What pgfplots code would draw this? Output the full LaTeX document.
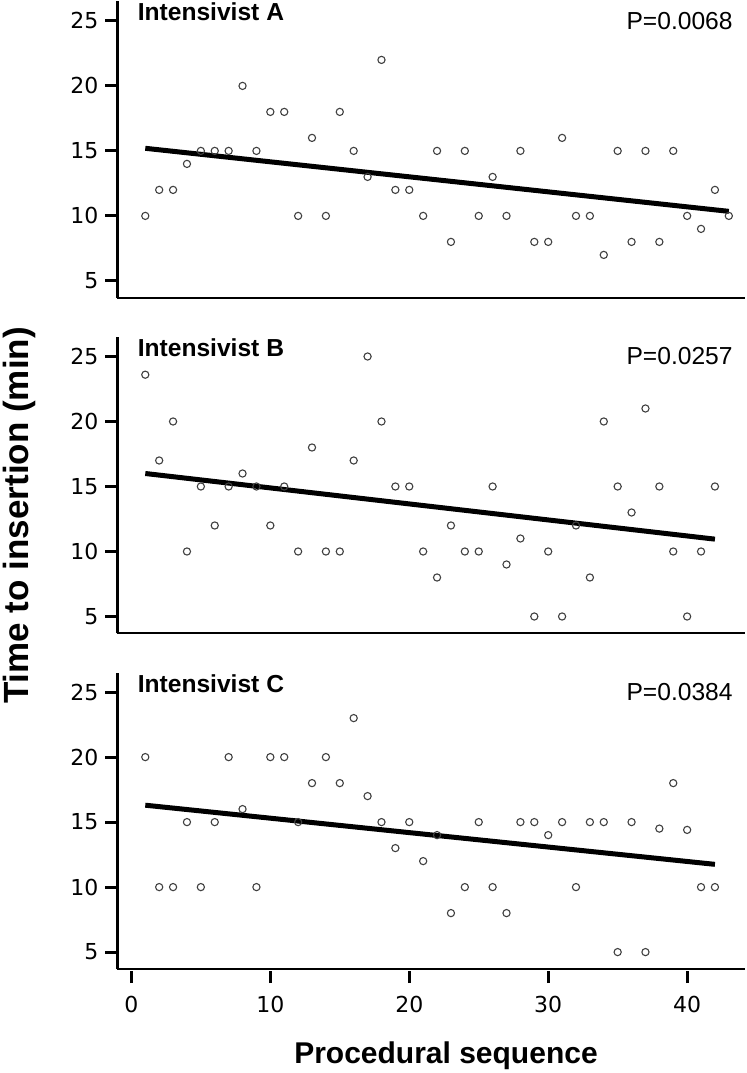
\documentclass[border=0pt]{standalone}
\usepackage{fontspec}
\setmainfont{Liberation Sans}
\newfontfamily\dejavu{DejaVu Sans}
\usepackage{pgfplots}
\pgfplotsset{compat=1.18}

\pgfplotstableread{
x y
1 10
2 12
3 12
4 14
5 15
6 15
7 15
8 20
9 15
10 18
11 18
12 10
13 16
14 10
15 18
16 15
17 13
18 22
19 12
20 12
21 10
22 15
23 8
24 15
25 10
26 13
27 10
28 15
29 8
30 8
31 16
32 10
33 10
34 7
35 15
36 8
37 15
38 8
39 15
40 10
41 9
42 12
43 10
}\dataA

\pgfplotstableread{
x y
1 23.6
2 17
3 20
4 10
5 15
6 12
7 15
8 16
9 15
10 12
11 15
12 10
13 18
14 10
15 10
16 17
17 25
18 20
19 15
20 15
21 10
22 8
23 12
24 10
25 10
26 15
27 9
28 11
29 5
30 10
31 5
32 12
33 8
34 20
35 15
36 13
37 21
38 15
39 10
40 5
41 10
42 15
}\dataB

\pgfplotstableread{
x y
1 20
2 10
3 10
4 15
5 10
6 15
7 20
8 16
9 10
10 20
11 20
12 15
13 18
14 20
15 18
16 23
17 17
18 15
19 13
20 15
21 12
22 14
23 8
24 10
25 15
26 10
27 8
28 15
29 15
30 14
31 15
32 10
33 15
34 15
35 5
36 15
37 5
38 14.5
39 18
40 14.4
41 10
42 10
}\dataC

\pgfplotsset{
  panel/.style={
    scale only axis, width=314pt, height=148.2pt,
    xmin=-1, xmax=44.2, ymin=3.7, ymax=26.5,
    axis x line*=bottom, axis y line*=left,
    axis line style={-},
    x axis line style={line width=0.9pt},
    y axis line style={line width=1.3pt},
    ytick={5,10,15,20,25},
    xtick={0,10,20,30,40},
    tick align=outside,
    major tick length=6pt,
    ytick style={line width=1.5pt, black},
    xtick style={line width=1.5pt, black, yshift=-1pt},
    tick label style={font=\dejavu\fontsize{11}{13}\selectfont},
    xticklabel style={yshift=-4pt},
    /pgf/number format/assume math mode=true,
    clip=false,
  },
  pts/.style={only marks, mark=o, mark size=1.8pt, mark options={draw=black!75, line width=0.55pt}},
  reg/.style={black, line width=2.5pt},
}
\tikzset{
  ttl/.style={anchor=base west, inner sep=0pt, font=\bfseries\fontsize{12.3}{14}\selectfont},
  pval/.style={anchor=base east, inner sep=0pt, font=\fontsize{12.3}{14}\selectfont},
}

\begin{document}
\begin{tikzpicture}
\begin{axis}[panel, at={(0pt,335.6pt)}, anchor=south west, xtick=\empty]
  \addplot[pts] table[x=x, y=y] {\dataA};
  \addplot[reg] coordinates {(1,15.2) (43,10.35)};
  \node[ttl] at (axis cs:0.43,25) {Intensivist A};
  \node[pval] at (axis cs:43.3,24.35) {P=0.0068};
\end{axis}
\begin{axis}[panel, at={(0pt,167.8pt)}, anchor=south west, xtick=\empty]
  \addplot[pts] table[x=x, y=y] {\dataB};
  \addplot[reg] coordinates {(1,16.0) (42,10.95)};
  \node[ttl] at (axis cs:0.43,25) {Intensivist B};
  \node[pval] at (axis cs:43.3,24.35) {P=0.0257};
\end{axis}
\begin{axis}[panel, at={(0pt,0pt)}, anchor=south west]
  \addplot[pts] table[x=x, y=y] {\dataC};
  \addplot[reg] coordinates {(1,16.3) (42,11.75)};
  \node[ttl] at (axis cs:0.43,25) {Intensivist C};
  \node[pval] at (axis cs:43.3,24.35) {P=0.0384};
\end{axis}
\node[rotate=90, anchor=base, inner sep=0pt, font=\bfseries\fontsize{17.5}{20}\selectfont] at (-44.25pt,226.75pt) {Time to insertion (min)};
\node[anchor=base, font=\bfseries\fontsize{15}{18}\selectfont] at (164.25pt,-47pt) {Procedural sequence};
\pgfresetboundingbox
\path[use as bounding box] (-58.75pt,-52pt) rectangle (314.25pt,484.5pt);
\end{tikzpicture}
\end{document}
